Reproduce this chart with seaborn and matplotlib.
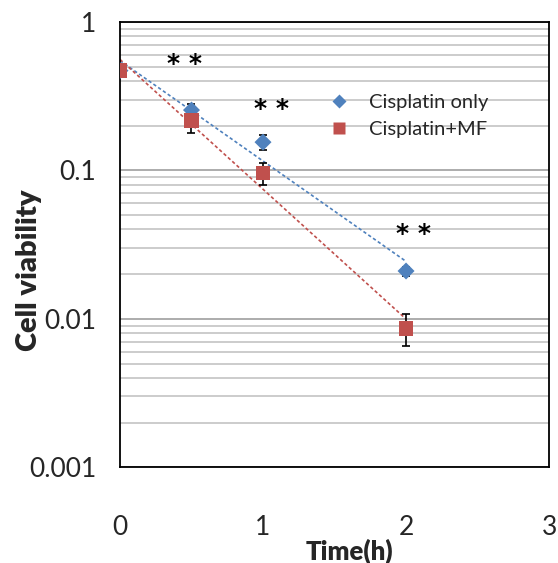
import numpy as np
import pandas as pd
import matplotlib
matplotlib.use("Agg")
import matplotlib.pyplot as plt
import seaborn as sns
from matplotlib.ticker import LogLocator, FixedLocator, FixedFormatter, NullFormatter

# ---- data ----
time_h = [0, 0.5, 1, 2]
cis_only = [0.47, 0.255, 0.155, 0.021]
cis_only_err = [0.0, 0.025, 0.018, 0.0015]
cis_mf = [0.47, 0.218, 0.096, 0.00865]
cis_mf_err = [0.0, 0.039, 0.016, 0.0021]
series_names = ["Cisplatin only", "Cisplatin+MF"]
sig_x = [0.45, 1.06, 2.05]
sig_y = [0.52, 0.26, 0.037]
sig_text = ["* *", "* *", "* *"]
x_ticks = [0, 1, 2, 3]
y_ticks = [0.001, 0.01, 0.1, 1]
y_tick_labels = ["0.001", "0.01", "0.1", "1"]

blue = "#4F81BD"
red = "#C0504D"

sns.set_style("white")
plt.rcParams["font.family"] = ["Lato", "DejaVu Sans"]

fig = plt.figure(figsize=(5.58, 5.63), dpi=100)
ax = fig.add_axes([0.215, 0.170, 0.769, 0.791])

df = pd.DataFrame({
    "time": time_h * 2,
    "viab": cis_only + cis_mf,
    "err": cis_only_err + cis_mf_err,
    "series": [series_names[0]] * 4 + [series_names[1]] * 4,
})

# exponential trend lines (fit on log scale), drawn from t=0 to t=2
xs = np.linspace(min(time_h), max(time_h), 50)
for name, col in zip(series_names, [blue, red]):
    sub = df[df.series == name]
    k, b = np.polyfit(sub.time, np.log10(sub.viab), 1)
    fit = pd.DataFrame({"time": xs, "viab": 10 ** (k * xs + b)})
    sns.lineplot(data=fit, x="time", y="viab", ax=ax, color=col, lw=1.2,
                 linestyle=(0, (2, 1.5)), zorder=2)

# error bars
for name in series_names:
    sub = df[(df.series == name) & (df.err > 0)]
    ax.errorbar(sub.time, sub.viab, yerr=sub.err, fmt="none", ecolor="black",
                elinewidth=1.2, capsize=3, capthick=1.2, zorder=3)

sns.scatterplot(data=df, x="time", y="viab", hue="series", style="series",
                size="series", sizes={series_names[0]: 75, series_names[1]: 115},
                markers={series_names[0]: "D", series_names[1]: "s"},
                palette={series_names[0]: blue, series_names[1]: red},
                edgecolor="none", ax=ax, zorder=4, legend=True)

for x, y, t in zip(sig_x, sig_y, sig_text):
    ax.text(x, y, t, ha="center", va="center", fontsize=18, color="black",
            family="DejaVu Sans", fontweight="bold")

ax.set_yscale("log")
ax.set_ylim(0.001, 1)
ax.set_xlim(0, 3)
ax.yaxis.set_major_locator(FixedLocator(y_ticks))
ax.yaxis.set_major_formatter(FixedFormatter(y_tick_labels))
ax.yaxis.set_minor_locator(LogLocator(base=10, subs=np.arange(2, 10)))
ax.yaxis.set_minor_formatter(NullFormatter())
ax.set_xticks(x_ticks)
ax.set_xticklabels([str(v) for v in x_ticks])

ax.grid(False)
ax.yaxis.grid(True, which="major", color="#A6A6A6", lw=1.3)
ax.yaxis.grid(True, which="minor", color="#C8C8C8", lw=1.3)
ax.set_axisbelow(True)

for sp in ax.spines.values():
    sp.set_color("black")
    sp.set_linewidth(1.3)
ax.tick_params(axis="both", which="major", direction="out", length=6, width=1.2,
               color="black", labelsize=19)
ax.tick_params(axis="y", which="major", pad=11)
ax.tick_params(axis="x", which="major", pad=28)
ax.tick_params(axis="y", which="minor", length=0)

ax.set_xlabel("Time(h)", fontsize=18.5, fontweight="heavy")
ax.xaxis.set_label_coords(0.534, -0.160)
ax.set_ylabel("Cell viability", fontsize=21, fontweight="heavy")
ax.yaxis.set_label_coords(-0.182, 0.443)

leg = ax.legend(loc="upper left", bbox_to_anchor=(0.44, 0.862), frameon=False,
                fontsize=14.5, handletextpad=0.5, labelspacing=0.5,
                markerscale=0.85, borderpad=0)

fig.savefig("out.png", dpi=100)
